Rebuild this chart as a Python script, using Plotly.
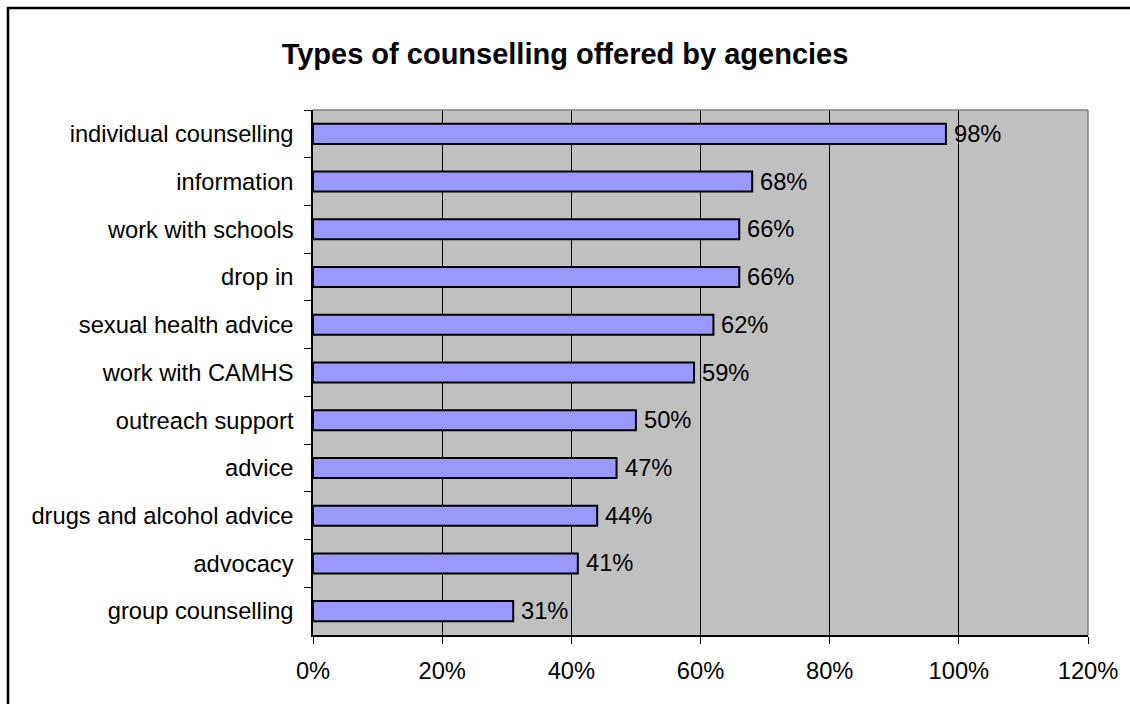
import plotly.graph_objects as go

# Share of agencies offering each type of counselling (fractions)
categories = [
    "individual counselling",
    "information",
    "work with schools",
    "drop in",
    "sexual health advice",
    "work with CAMHS",
    "outreach support",
    "advice",
    "drugs and alcohol advice",
    "advocacy",
    "group counselling",
]
shares = [0.98, 0.68, 0.66, 0.66, 0.62, 0.59, 0.50, 0.47, 0.44, 0.41, 0.31]
x_ticks = [0, 0.2, 0.4, 0.6, 0.8, 1.0, 1.2]
x_tick_labels = ["0%", "20%", "40%", "60%", "80%", "100%", "120%"]

W, H = 1130, 704
L, R, T, B = 313, 1088, 110, 635
FONT = "Liberation Sans, Arial, sans-serif"
FS = 23.7


def px_x(p):
    return (p - L) / (R - L)


def px_y(p):
    return (B - p) / (B - T)


fig = go.Figure(
    go.Bar(
        y=categories,
        x=shares,
        orientation="h",
        width=0.42,
        marker=dict(color="#9999FF", line=dict(color="black", width=2)),
        hoverinfo="skip",
    )
)

# value labels just right of each bar end
annotations = [
    dict(
        x=v, y=c, xref="x", yref="y",
        text=f"{round(v * 100)}%",
        showarrow=False, xanchor="left", yanchor="middle",
        xshift=6,
        font=dict(family=FONT, size=FS, color="black"),
    )
    for c, v in zip(categories, shares)
]

fig.update_layout(
    width=W,
    height=H,
    margin=dict(l=L, r=W - R, t=T, b=H - B),
    paper_bgcolor="white",
    plot_bgcolor="#C0C0C0",
    showlegend=False,
    font=dict(family=FONT, size=FS, color="black"),
    title=dict(
        text="<b>Types of counselling offered by agencies</b>",
        x=px_x(565),
        xref="paper",
        xanchor="center",
        y=1 - 54 / H,
        yref="container",
        yanchor="middle",
        font=dict(family=FONT, size=29, color="black"),
    ),
    annotations=annotations,
    xaxis=dict(
        range=[0, 1.2],
        tickvals=x_ticks,
        ticktext=x_tick_labels,
        showgrid=True,
        gridcolor="black",
        gridwidth=1,
        zeroline=False,
        showline=True,
        linecolor="black",
        linewidth=1.5,
        ticks="outside",
        ticklen=7,
        tickcolor="black",
        ticklabelstandoff=7,
        fixedrange=True,
    ),
    yaxis=dict(
        categoryorder="array",
        categoryarray=categories,
        autorange="reversed",
        showgrid=False,
        zeroline=False,
        showline=True,
        linecolor="black",
        linewidth=1.5,
        ticks="outside",
        tickson="boundaries",
        ticklen=7,
        tickcolor="black",
        ticklabelstandoff=13,
        fixedrange=True,
    ),
    shapes=[
        # grey frame on the top and right of the plot area
        dict(type="line", xref="paper", yref="paper", x0=0, x1=1, y0=1, y1=1,
             line=dict(color="#808080", width=1.5), layer="above"),
        dict(type="line", xref="paper", yref="paper", x0=1, x1=1, y0=0, y1=1,
             line=dict(color="#808080", width=1.5), layer="above"),
        # outer chart frame
        dict(type="rect", xref="paper", yref="paper",
             x0=px_x(8), x1=px_x(1145), y0=px_y(720), y1=px_y(8),
             line=dict(color="black", width=2.5), fillcolor="rgba(0,0,0,0)"),
    ],
)

fig.write_html("out.html")
